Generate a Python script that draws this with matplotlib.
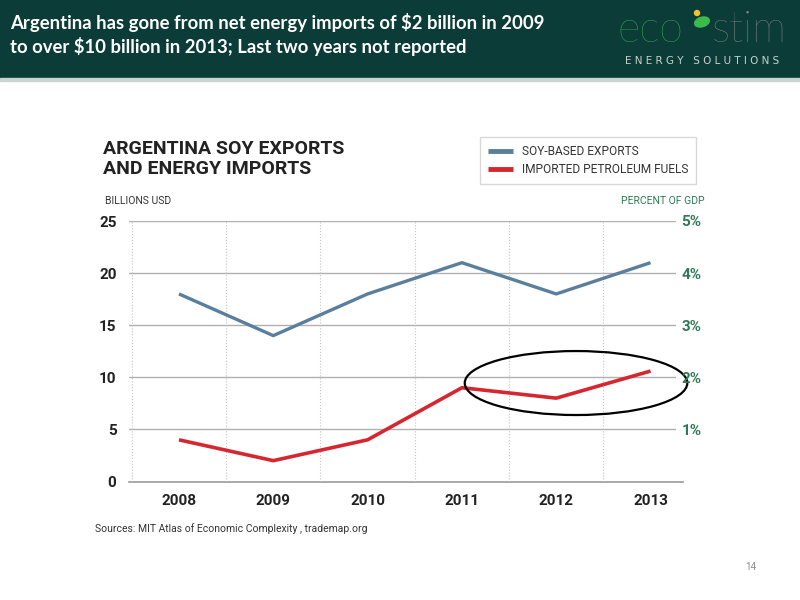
import matplotlib
matplotlib.use('Agg')
import matplotlib.pyplot as plt
from matplotlib import font_manager as fm
from matplotlib.patches import Rectangle, Ellipse

years = [2008, 2009, 2010, 2011, 2012, 2013]
soy_exports = [18, 14, 18, 21, 18, 21]
fuel_imports = [4, 2, 4, 9, 8, 10.6]
left_ticks = [0, 5, 10, 15, 20, 25]
right_ticks = [1, 2, 3, 4, 5]

installed = {f.name for f in fm.fontManager.ttflist}
narrow = 'Liberation Sans Narrow' if 'Liberation Sans Narrow' in installed else 'Roboto'
plt.rcParams['font.family'] = [narrow, 'DejaVu Sans']

BLUE = '#5a7f9c'
RED = '#d62630'
GREEN = '#2f7a56'
DARK = '#222222'
HEADER = '#0b3c38'

fig = plt.figure(figsize=(8, 6), dpi=100)
fig.patch.set_facecolor('white')

# header band
fig.add_artist(Rectangle((0, 1 - 78 / 600), 1, 78 / 600, transform=fig.transFigure,
                         color=HEADER, zorder=0))
fig.add_artist(Rectangle((0, 1 - 81 / 600), 1, 3 / 600, transform=fig.transFigure,
                         color='#c9d3d0', zorder=0))
fig.text(10 / 800, 1 - 22 / 600, 'Argentina has gone from net energy imports of $2 billion in 2009',
         color='white', fontsize=13.3, fontweight='bold', family='Lato', va='center')
fig.text(10 / 800, 1 - 47 / 600, 'to over $10 billion in 2013; Last two years not reported',
         color='white', fontsize=13.3, fontweight='bold', family='Lato', va='center')

# logo
fig.text(617 / 800, 1 - 31 / 600, 'eco', color='#3dbb4a', fontsize=31, family='Lato',
         fontweight='light', va='center')
fig.text(712 / 800, 1 - 31 / 600, 'stim', color='#8c8c8c', fontsize=31, family='Lato',
         fontweight='light', va='center')
fig.add_artist(Ellipse((702 / 800, 1 - 22 / 600), 16 / 800, 9 / 600, angle=35,
                       transform=fig.transFigure, color='#3dbb4a'))
fig.add_artist(Ellipse((697 / 800, 1 - 13 / 600), 5 / 800, 5 / 600,
                       transform=fig.transFigure, color='#f2c230'))
fig.text(702 / 800, 1 - 61 / 600, ' '.join('ENERGY') + '   ' + ' '.join('SOLUTIONS'),
         color='#c8d2ce', fontsize=7.5, family='DejaVu Sans', ha='center', va='center')

# chart title and labels above the plot
fig.text(103 / 800, 1 - 159 / 600, 'ARGENTINA SOY EXPORTS\nAND ENERGY IMPORTS',
         color=DARK, fontsize=14, fontweight='bold', va='center', linespacing=1.1)
fig.text(105 / 800, 1 - 201 / 600, 'BILLIONS USD', color='#333333', fontsize=7.5, va='center')
fig.text(705 / 800, 1 - 201 / 600, 'PERCENT OF GDP', color=GREEN, fontsize=7.5,
         ha='right', va='center')

ax = fig.add_axes([129 / 800, 1 - 481.5 / 600, 547 / 800, 260.5 / 600])
ax.set_xlim(2007.47, 2013.27)
ax.set_ylim(0, 25)
for s in ax.spines.values():
    s.set_visible(False)

for v in left_ticks[1:]:
    ax.axhline(v, color='#b0b0b0', lw=1.0, zorder=1)
ax.axhline(0, xmin=0, xmax=1.012, color='#9a9a9a', lw=1.2, zorder=1, clip_on=False)
for yr in years:
    ax.axvline(yr - 0.5, color='#c4c4c4', lw=0.8, ls=':', zorder=1)

ax.plot(years, soy_exports, color=BLUE, lw=2.4, label='SOY-BASED EXPORTS',
        solid_capstyle='butt', zorder=3)
ax.plot(years, fuel_imports, color=RED, lw=2.6, label='IMPORTED PETROLEUM FUELS',
        solid_capstyle='butt', zorder=3)

ax.set_xticks(years)
ax.set_xticklabels([str(y) for y in years], fontsize=11, fontweight='bold', color=DARK)
ax.set_yticks(left_ticks)
ax.set_yticklabels([str(v) for v in left_ticks], fontsize=11, fontweight='bold', color=DARK)
ax.tick_params(axis='both', length=0)
ax.tick_params(axis='x', pad=9)
ax.tick_params(axis='y', pad=9)

ax2 = ax.twinx()
ax2.set_ylim(0, 5)
ax2.set_yticks(right_ticks)
ax2.set_yticklabels(['%d%%' % v for v in right_ticks], fontsize=11, fontweight='bold',
                    color=GREEN)
ax2.tick_params(axis='y', length=0, pad=4)
for s in ax2.spines.values():
    s.set_visible(False)

leg = ax.legend(loc='upper left', bbox_to_anchor=(480 / 800, 1 - 137 / 600),
                bbox_transform=fig.transFigure, frameon=True, fontsize=8.6,
                handlelength=2.1, handletextpad=0.75, borderpad=0.65, labelspacing=0.45,
                borderaxespad=0)
leg.get_frame().set_edgecolor('#cfcfcf')
leg.get_frame().set_linewidth(1.0)
leg.get_frame().set_boxstyle('square', pad=0)
for t in leg.get_texts():
    t.set_color('#333333')
for h in leg.get_lines():
    h.set_linewidth(3.5)

# hand-drawn highlight around the last two years
ax.add_patch(Ellipse((2012.21, 9.45), 2.36, 6.14, fill=False, ec='black', lw=1.6,
                     zorder=4, clip_on=False))

fig.text(95 / 800, 1 - 529 / 600, 'Sources: MIT Atlas of Economic Complexity , trademap.org',
         color='#333333', fontsize=7.5, va='center')
fig.text(745 / 800, 1 - 567 / 600, '14', color='#8a8a8a', fontsize=7, va='center')

fig.savefig('out.png', dpi=100)
